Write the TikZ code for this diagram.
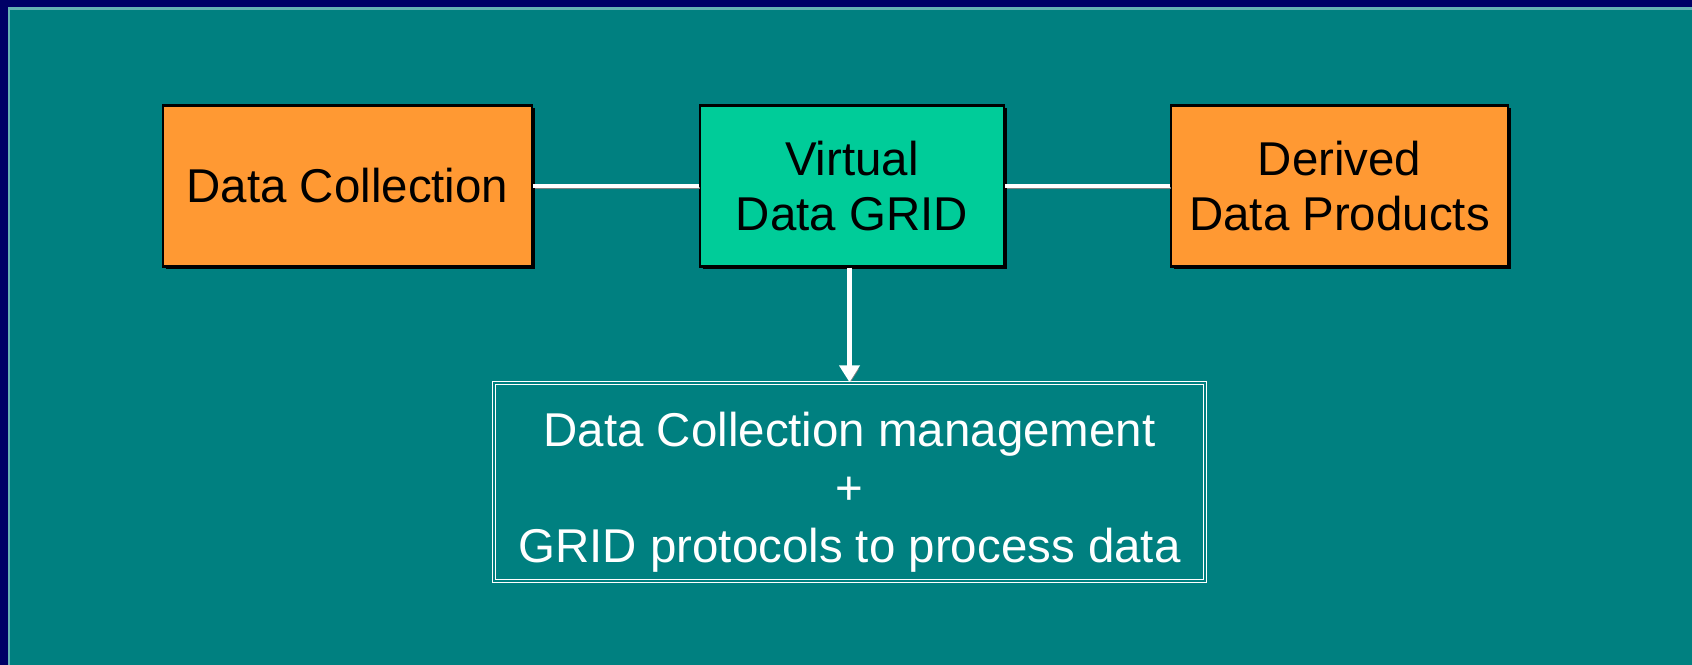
\documentclass[tikz,border=0pt]{standalone}
\usepackage{fontspec}
\setmainfont{Liberation Sans}
\usetikzlibrary{arrows.meta,shadows}
\definecolor{navy}{HTML}{000066}
\definecolor{slide}{HTML}{008080}
\definecolor{rim}{HTML}{66B3B3}
\definecolor{boxorange}{HTML}{FF9933}
\definecolor{boxgreen}{HTML}{00CC99}
\begin{document}
\begin{tikzpicture}[
        blk/.style={draw=black, line width=0.6pt, minimum height=1.61cm, align=center,
            font=\fontsize{13.5}{15.9}\selectfont,
            drop shadow={shadow xshift=0.03cm, shadow yshift=-0.03cm, opacity=1, fill=black}},
        link/.style={white, line width=1.4pt,
            preaction={draw=gray, transform canvas={shift={(0.015,-0.02)}}}}
    ]
        \fill[navy] (0,0) rectangle (16.92,-6.65);
        \fill[rim] (0.08,-0.07) rectangle (16.92,-6.65);
        \fill[slide] (0.10,-0.10) rectangle (16.92,-6.65);
        \node[blk, fill=boxorange, minimum width=3.69cm] (col) at (3.475,-1.86) {Data Collection};
        \node[blk, fill=boxgreen, minimum width=3.04cm] (vdg) at (8.52,-1.86) {Virtual\\Data GRID};
        \node[blk, fill=boxorange, minimum width=3.37cm] (ddp) at (13.395,-1.86) {Derived\\Data Products};
        \node[draw=white, double=slide, line width=0.4pt, double distance=0.6pt, fill=slide,
            drop shadow={shadow xshift=0.02cm, shadow yshift=-0.02cm, opacity=1, fill=gray},
            minimum width=7.11cm, minimum height=1.98cm, inner ysep=0pt, align=center, text=white,
            font=\fontsize{13.5}{16.6}\selectfont] (mgmt) at (8.495,-4.82)
            {\rule{0pt}{0.55cm}Data Collection management\\+\\GRID protocols to process data};
        \draw[link] (col) -- (vdg);
        \draw[link] (vdg) -- (ddp);
        \draw[link, line width=1.2pt, -{Triangle[width=0.2cm,length=0.17cm]}] (mgmt.north |- vdg.south) -- (mgmt.north);
\end{tikzpicture}
\end{document}
